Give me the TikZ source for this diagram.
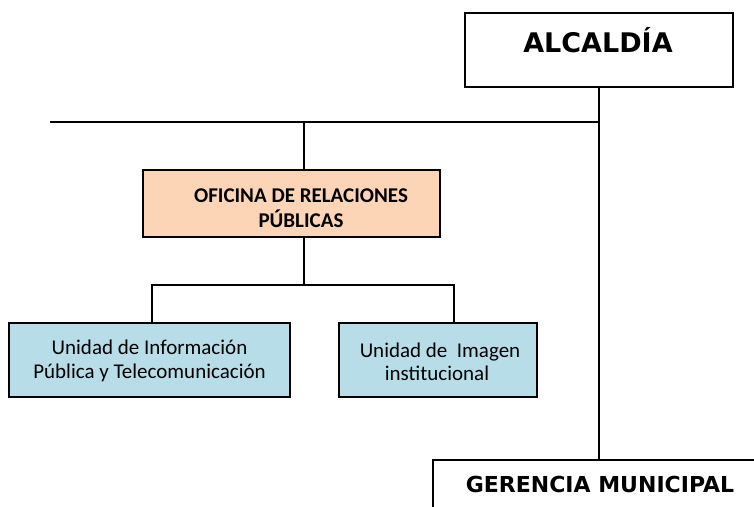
\documentclass[tikz,border=0pt]{standalone}
\usepackage{fontspec}
\setmainfont{Carlito}
\newfontfamily\verd{DejaVu Sans}
\definecolor{peach}{RGB}{251,213,181}
\definecolor{lblue}{RGB}{183,221,232}
\begin{document}
\begin{tikzpicture}[x=1pt,y=-1pt,
  box/.style={draw=black, line width=1.6pt, inner sep=0pt},
  conn/.style={draw=black, line width=1.6pt},
  bigtxt/.style={anchor=base, inner sep=0pt, font=\verd\bfseries\fontsize{27}{30}\selectfont},
  midtxt/.style={anchor=base, inner sep=0pt, font=\verd\bfseries\fontsize{22}{25}\selectfont},
  offtxt/.style={anchor=base, inner sep=0pt, font=\bfseries\fontsize{21}{24}\selectfont},
  unitxt/.style={anchor=base, inner sep=0pt, font=\fontsize{21}{24}\selectfont}]
\useasboundingbox (0,0) rectangle (754,506);
\clip (0,0) rectangle (754,506);
% boxes
\node[box, fill=white, minimum width=268pt, minimum height=74pt] (alc) at (599,50) {};
\node[bigtxt] (alct) at (598,52) {ALCALDÍA};
\node[box, fill=peach, minimum width=297pt, minimum height=67pt] (off) at (291.5,203.5) {};
\node[offtxt] (offt1) at (301,202) {OFICINA DE RELACIONES};
\node[offtxt] (offt2) at (301,227) {PÚBLICAS};
\node[box, fill=lblue, minimum width=281pt, minimum height=74pt] (u1) at (149.5,360) {};
\node[unitxt] (u1t1) at (149.5,354) {Unidad de Información};
\node[unitxt] (u1t2) at (149.5,378) {Pública y Telecomunicación};
\node[box, fill=lblue, minimum width=198pt, minimum height=74pt] (u2) at (438,360) {};
\node[unitxt] (u2t1) at (440,357) {Unidad de\ \ Imagen};
\node[unitxt] (u2t2) at (437,380) {institucional};
\node[box, fill=white, anchor=north west, minimum width=400pt, minimum height=100pt] (ger) at (432,459) {};
\node[midtxt] (gert) at (600,492) {GERENCIA MUNICIPAL};
% connectors
\coordinate (hl) at (50,122);
\coordinate (j1) at (304,122);
\coordinate (br) at (304,285);
\coordinate (bl) at (152,285);
\coordinate (brr) at (454,285);
\draw[conn] (alc.south) -- (alc.south |- ger.north);
\draw[conn] (hl) -- (hl -| alc.south);
\draw[conn] (j1) -- (j1 |- off.north);
\draw[conn] (j1 |- off.south) -- (br);
\draw[conn] (bl |- u1.north) -- (bl) -- (brr) -- (brr |- u2.north);
\end{tikzpicture}
\end{document}
